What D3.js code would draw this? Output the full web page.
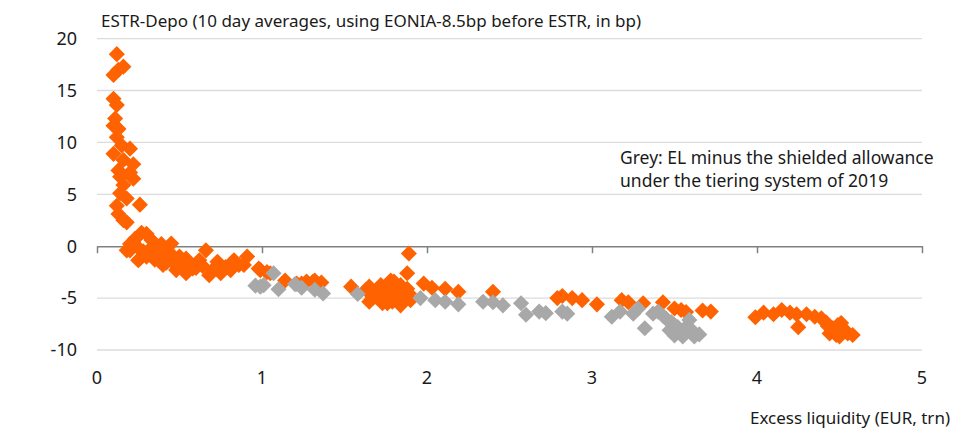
<!DOCTYPE html>
<html>
<head>
<meta charset="utf-8">
<script src="https://d3js.org/d3.v7.min.js"></script>
<style>
    body { margin: 0; background: #fff; }
    svg { display: block; font-family: 'Noto Sans', sans-serif; }
    .grid line { stroke: #dcdcdc; stroke-width: 1.3; }
    .zeroaxis line, .zeroaxis path { stroke: #808080; stroke-width: 1.5; }
    .label { fill: #1a1a1a; }
</style>
</head>
<body>
<svg id="chart" width="953" height="439"></svg>
<script>
// ESTR-Depo (bp) vs excess liquidity (EUR trn)
let orange_x = [
    0.12, 0.13, 0.10, 0.16, 0.10, 0.12, 0.11, 0.10, 0.13, 0.12, 0.15, 0.20, 0.10, 0.16, 0.22, 0.13, 0.20, 0.14,
    0.22, 0.16, 0.14, 0.18, 0.26, 0.12, 0.13, 0.18, 0.16,
    0.27, 0.30, 0.23, 0.22, 0.20, 0.18, 0.20, 0.26, 0.25, 0.32, 0.38, 0.39, 0.45, 0.40, 0.35, 0.40, 0.44, 0.45,
    0.50, 0.54, 0.48, 0.52, 0.58, 0.54, 0.60, 0.62, 0.66, 0.68, 0.73, 0.75, 0.75, 0.81, 0.83, 0.83, 0.91, 0.89,
    0.28, 0.30, 0.36, 0.42, 0.47, 0.56, 0.64, 0.70, 0.78, 0.86, 0.24, 0.33,
    0.98, 0.99, 1.03, 1.05, 1.14, 1.21, 1.24, 1.27, 1.31, 1.32, 1.36,
    1.54, 1.63, 1.65, 1.69, 1.72, 1.76, 1.78, 1.80, 1.84, 1.88, 1.89, 1.65, 1.67, 1.72, 1.73, 1.76, 1.78, 1.79,
    1.82, 1.84, 1.86, 1.88, 1.89, 1.90, 1.70, 1.75, 1.83, 1.68, 1.74, 1.77, 1.81, 1.85, 1.87, 1.70,
    1.98, 2.03, 2.11, 2.19, 2.40,
    2.79, 2.82, 2.88, 2.94, 3.03, 3.18, 3.22, 3.31, 3.43, 3.50, 3.54, 3.57, 3.67, 3.72,
    3.99, 4.04, 4.10, 4.15, 4.20, 4.24, 4.25, 4.30, 4.35, 4.39, 4.42, 4.44, 4.46, 4.48, 4.50, 4.51, 4.54, 4.58,
    4.43, 4.47, 4.52, 4.55, 4.49
];
let orange_y = [
    18.5, 17.0, 16.5, 17.3, 14.2, 13.6, 12.3, 11.6, 11.3, 10.5, 9.7, 9.4, 8.9, 8.3, 7.9, 7.3, 7.1, 6.7,
    6.5, 5.9, 5.1, 4.6, 4.0, 3.9, 3.1, 2.3, 2.5,
    1.3, 1.2, 0.7, 0.4, 0.2, -0.4, -0.4, -1.2, -1.35, -0.3, -0.06, 0.2, 0.25, -1.35, -1.3, -1.8, -0.6, -1.2,
    -1.0, -1.2, -2.3, -2.15, -2.15, -2.6, -2.1, -1.35, -0.4, -2.8, -1.5, -2.15, -2.6, -2.3, -1.7, -1.35, -1.0, -1.8,
    -0.5, -1.0, -0.6, -1.6, -1.7, -1.6, -1.9, -2.3, -2.0, -1.8, 0.0, 0.6,
    -2.15, -2.3, -2.5, -2.6, -3.3, -3.6, -3.6, -3.4, -3.4, -3.3, -3.5,
    -3.9, -4.2, -3.9, -4.4, -3.75, -3.75, -3.3, -3.4, -3.75, -2.6, -0.7, -5.35, -5.0, -4.9, -5.5, -5.5, -4.55, -5.35,
    -4.7, -5.7, -5.2, -4.1, -4.55, -5.2, -4.7, -4.2, -4.2, -4.5, -5.2, -4.9, -5.1, -4.9, -4.8, -4.1,
    -3.6, -4.0, -4.1, -4.4, -4.4,
    -5.0, -4.8, -5.0, -5.2, -5.6, -5.2, -5.4, -5.5, -5.4, -6.0, -6.15, -6.35, -6.2, -6.3,
    -6.85, -6.4, -6.55, -6.15, -6.4, -6.55, -7.8, -6.55, -6.8, -6.95, -7.35, -8.4, -7.9, -8.55, -8.7, -7.4, -8.2, -8.55,
    -7.7, -8.2, -8.0, -8.4, -7.6
];

// grey: EL minus the shielded allowance
let grey_x = [
    0.96, 0.99, 1.01, 1.07, 1.10, 1.20, 1.24, 1.32, 1.37, 1.58, 1.96, 2.05, 2.11, 2.19, 2.34, 2.40, 2.46, 2.57,
    2.60, 2.68, 2.72, 2.82, 2.85, 3.12, 3.17, 3.25, 3.28, 3.32, 3.37, 3.43, 3.48, 3.47, 3.50, 3.52, 3.55, 3.57,
    3.59, 3.61, 3.65, 3.53, 3.56, 3.60, 3.62, 3.50, 3.45, 3.40
];
let grey_y = [
    -3.8, -3.9, -3.75, -2.6, -4.15, -3.65, -4.0, -4.2, -4.55, -4.6, -5.0, -5.2, -5.35, -5.6, -5.35, -5.4, -5.7, -5.5,
    -6.6, -6.3, -6.45, -6.3, -6.5, -6.8, -6.3, -6.5, -6.0, -7.9, -6.5, -6.7, -7.3, -8.1, -8.6, -7.8, -8.7, -7.8,
    -7.1, -8.4, -8.5, -8.3, -8.2, -8.0, -8.7, -7.6, -7.0, -6.3
];

let x_ticks = [0, 1, 2, 3, 4, 5];
let y_ticks = [-10, -5, 0, 5, 10, 15, 20];

let title = 'ESTR-Depo (10 day averages, using EONIA-8.5bp before ESTR, in bp)';
let x_title = 'Excess liquidity (EUR, trn)';
let note = ['Grey: EL minus the shielded allowance', 'under the tiering system of 2019'];

let colors = { orange: '#ff6200', grey: '#a8a8a8' };

const svg = d3.select('#chart');

let fx = d3.scaleLinear().domain([0, 5]).range([97, 922]);
let fy = d3.scaleLinear().domain([-10, 20]).range([350, 38.6]);

// horizontal gridlines (0 is drawn as the axis)
svg.append('g').classed('grid', true)
    .selectAll('line')
    .data(y_ticks.filter(d => d !== 0))
    .enter().append('line')
    .attr('x1', fx(0)).attr('x2', fx(5))
    .attr('y1', d => fy(d)).attr('y2', d => fy(d));

// y labels
svg.append('g')
    .selectAll('text')
    .data(y_ticks)
    .enter().append('text')
    .classed('label', true)
    .attr('x', 77)
    .attr('y', d => fy(d))
    .attr('dy', '0.35em')
    .attr('text-anchor', 'end')
    .style('font-size', '18px')
    .text(d => d);

// x axis sits on the zero line, labels go to the bottom
let xaxis = d3.axisBottom(fx).tickValues(x_ticks).tickSize(7).tickSizeOuter(0).tickFormat('');
svg.append('g').classed('zeroaxis', true)
    .attr('transform', 'translate(0,' + fy(0) + ')')
    .call(xaxis);

svg.append('g')
    .selectAll('text')
    .data(x_ticks)
    .enter().append('text')
    .classed('label', true)
    .attr('x', d => fx(d))
    .attr('y', 378)
    .attr('dy', '0.35em')
    .attr('text-anchor', 'middle')
    .style('font-size', '18px')
    .text(d => d);

// points
let diamond = d3.symbol().type(d3.symbolSquare).size(130);

let draw_series = function(xs, ys, color) {
    let data = xs.map((x, i) => ({ x: x, y: ys[i] }));
    svg.append('g')
        .selectAll('path')
        .data(data)
        .enter().append('path')
        .attr('d', diamond)
        .attr('fill', color)
        .attr('transform', d => 'translate(' + fx(d.x) + ',' + fy(d.y) + ') rotate(45)');
}

draw_series(orange_x, orange_y, colors.orange);
draw_series(grey_x, grey_y, colors.grey);

// texts
svg.append('text').classed('label', true)
    .attr('x', 101).attr('y', 21).attr('dy', '0.35em')
    .style('font-size', '17px')
    .text(title);

svg.append('text').classed('label', true)
    .attr('x', 950).attr('y', 418).attr('dy', '0.35em')
    .attr('text-anchor', 'end')
    .style('font-size', '17px')
    .text(x_title);

svg.append('g')
    .selectAll('text')
    .data(note)
    .enter().append('text')
    .classed('label', true)
    .attr('x', 620)
    .attr('y', (d, i) => 158 + 23 * i)
    .attr('dy', '0.35em')
    .style('font-size', '17.5px')
    .text(d => d);
</script>
</body>
</html>
